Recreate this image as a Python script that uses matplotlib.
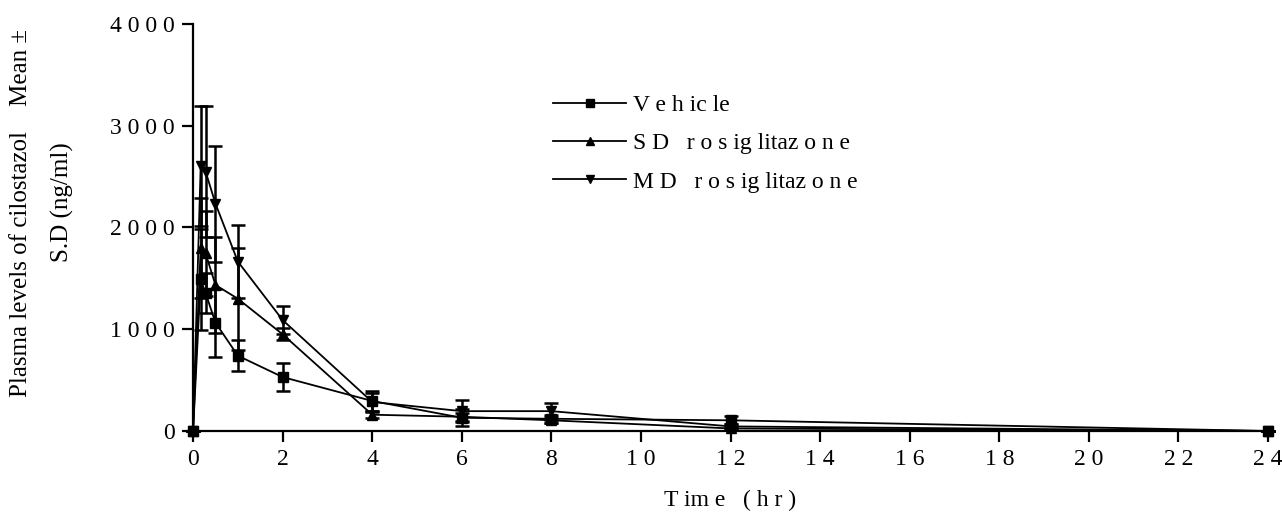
import matplotlib
matplotlib.use("Agg")
import matplotlib.pyplot as plt

plt.rcParams['font.family'] = ['Liberation Serif', 'DejaVu Serif']

# sampling times (hr)
time_hr = [0, 0.17, 0.28, 0.5, 1, 2, 4, 6, 8, 12, 24]

# mean plasma levels (ng/ml) and S.D
vehicle = [0, 1490, 1355, 1065, 740, 530, 295, 130, 120, 105, 0]
vehicle_sd = [0, 500, 200, 335, 155, 140, 95, 85, 40, 40, 0]
sd_rosi = [0, 1795, 1745, 1435, 1300, 950, 160, 140, 105, 25, 0]
sd_rosi_sd = [0, 490, 420, 475, 500, 60, 30, 40, 30, 10, 0]
md_rosi = [0, 2605, 2550, 2235, 1665, 1090, 285, 195, 195, 45, 0]
md_rosi_sd = [0, 590, 645, 570, 360, 135, 90, 105, 85, 20, 0]

series_names = ["V e h ic le", "S D   r o s ig litaz o n e", "M D   r o s ig litaz o n e"]
markers = ["s", "^", "v"]

x_ticks = list(range(0, 25, 2))
y_ticks = [0, 1000, 2000, 3000, 4000]


def spaced(v):
    return " ".join(str(v))


fig = plt.figure(figsize=(12.82, 5.14), dpi=100)
ax = fig.add_axes([0.1506, 0.1615, 0.8385, 0.7918])

for vals, err, name, m in zip([vehicle, sd_rosi, md_rosi],
                              [vehicle_sd, sd_rosi_sd, md_rosi_sd],
                              series_names, markers):
    ax.errorbar(time_hr, vals, yerr=err, color='black', lw=1.3,
                elinewidth=1.8, capsize=5, capthick=1.8,
                marker=m, markersize=7.5, label=name, clip_on=False)

ax.set_xlim(0, 24)
ax.set_ylim(0, 4000)
ax.set_xticks(x_ticks)
ax.set_xticklabels([spaced(t) for t in x_ticks])
ax.set_yticks(y_ticks)
ax.set_yticklabels([spaced(t) for t in y_ticks])
ax.tick_params(direction='out', length=8, width=1.6, labelsize=17, pad=5)

for side in ['top', 'right']:
    ax.spines[side].set_visible(False)
for side in ['left', 'bottom']:
    ax.spines[side].set_linewidth(1.6)

ax.set_xlabel("T im e   ( h r )", fontsize=17, labelpad=14)

fig.text(0.016, 0.585, "Plasma levels of cilostazol    Mean \u00b1",
         rotation=90, ha='center', va='center', fontsize=18)
fig.text(0.049, 0.607, "S.D (ng/ml)",
         rotation=90, ha='center', va='center', fontsize=18)

# legend without error bars
handles, labels = ax.get_legend_handles_labels()
handles = [h[0] for h in handles]
ax.legend(handles, labels, loc='upper left', bbox_to_anchor=(0.315, 0.878),
          frameon=False, fontsize=17, handlelength=3.1, markerscale=0.8,
          labelspacing=0.7, handletextpad=0.3)

fig.savefig("out.png", dpi=100)
